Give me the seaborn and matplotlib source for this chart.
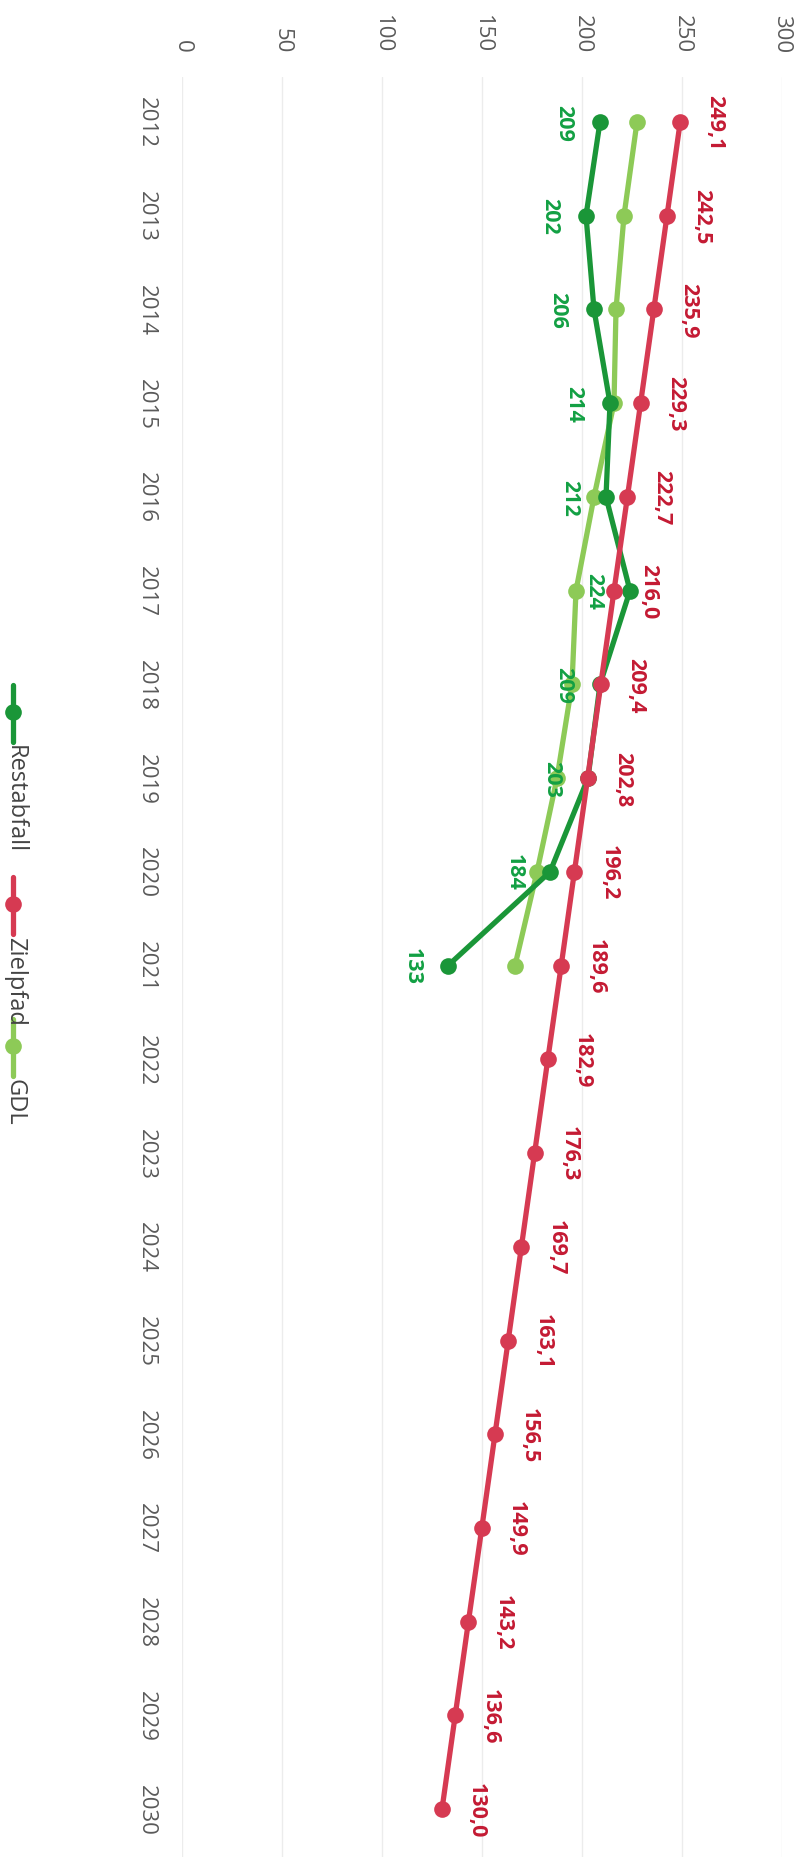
import pandas as pd
import matplotlib.pyplot as plt
import seaborn as sns
from matplotlib.lines import Line2D

# Daten (Restabfall / Zielpfad / GDL)
years = list(range(2012, 2031))
zielpfad = [249.1, 242.5, 235.9, 229.3, 222.7, 216.0, 209.4, 202.8, 196.2, 189.6,
            182.9, 176.3, 169.7, 163.1, 156.5, 149.9, 143.2, 136.6, 130.0]
restabfall = [209, 202, 206, 214, 212, 224, 209, 203, 184, 133]
gdl = [227.5, 221, 217, 216, 206, 197, 195, 187.5, 177.5, 166.5]
value_ticks = [0, 50, 100, 150, 200, 250, 300]

c_rest = '#1a9638'
c_ziel = '#d63a52'
c_gdl = '#8dca57'
c_rest_txt = '#12a043'
c_ziel_txt = '#c41a33'

sns.set_theme(style='white')
plt.rcParams['font.family'] = ['Open Sans', 'DejaVu Sans']

W, H = 804, 1858
fig = plt.figure(figsize=(W / 100, H / 100), dpi=100)
# Diagramm ist um 90 Grad im Uhrzeigersinn gedreht: Werte waagerecht, Jahre senkrecht
ax = fig.add_axes([182 / W, 0, (782 - 182) / W, (H - 78) / H])

for name, vals, col in [('GDL', gdl, c_gdl), ('Restabfall', restabfall, c_rest),
                        ('Zielpfad', zielpfad, c_ziel)]:
    df = pd.DataFrame({'Jahr': years[:len(vals)], 'Wert': vals})
    sns.lineplot(data=df, x='Wert', y='Jahr', orient='y', sort=False, color=col,
                 lw=3.8, marker='o', markersize=12, markeredgewidth=0, ax=ax,
                 legend=False)

# Beschriftungen der Punkte
for yr, v in zip(years, zielpfad):
    ax.annotate(f'{v:.1f}'.replace('.', ','), (v, yr), xytext=(25, 0),
                textcoords='offset points', rotation=270, ha='center', va='center',
                fontsize=15.5, fontweight='bold', color=c_ziel_txt)
for yr, v in zip(years, restabfall):
    ax.annotate(str(v), (v, yr), xytext=(-26, 0), textcoords='offset points',
                rotation=270, ha='center', va='center', fontsize=15.5,
                fontweight='bold', color=c_rest_txt)

ax.set_xlim(0, 300)
ax.set_ylim(2030.51, 2011.52)
ax.set_xticks(value_ticks)
ax.set_yticks(years)
ax.xaxis.tick_top()
ax.tick_params(axis='x', length=0, pad=18, labelrotation=270, labelsize=16,
               labelcolor='#5a5a5a')
ax.tick_params(axis='y', length=0, pad=18, labelrotation=270, labelsize=16,
               labelcolor='#5a5a5a')
for lab in ax.get_yticklabels():
    lab.set_va('center')
ax.set_xlabel('')
ax.set_ylabel('')
ax.grid(axis='x', color='#ececec', lw=1)
ax.grid(axis='y', visible=False)
for s in ax.spines.values():
    s.set_visible(False)

# Legende (gedreht, von Hand)
leg_items = [('Restabfall', c_rest, 713), ('Zielpfad', c_ziel, 905), ('GDL', c_gdl, 1047)]
for name, col, yc in leg_items:
    fig.add_artist(Line2D([13 / W, 13 / W], [1 - (yc - 27) / H, 1 - (yc + 30) / H],
                          transform=fig.transFigure, color=col, lw=3.8))
    fig.add_artist(Line2D([13 / W], [1 - yc / H], transform=fig.transFigure,
                          color=col, marker='o', markersize=12, markeredgewidth=0))
    fig.text(15 / W, 1 - (yc + 32) / H, name, rotation=270, rotation_mode='anchor',
             ha='left', va='center', fontsize=17, color='#444444')

fig.savefig('out.png', dpi=100, facecolor='white')
